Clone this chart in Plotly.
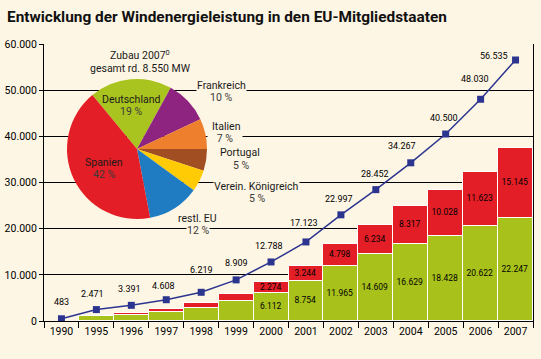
import plotly.graph_objects as go

# ---------------- data ----------------
years = ["1990", "1995", "1996", "1997", "1998", "1999", "2000", "2001",
         "2002", "2003", "2004", "2005", "2006", "2007"]
eu_total = [483, 2471, 3391, 4608, 6219, 8909, 12788, 17123,
            22997, 28452, 34267, 40500, 48030, 56535]
germany = [None, 1120, 1400, 2050, 2750, 4400, 6112, 8754,
           11965, 14609, 16629, 18428, 20622, 22247]
spain = [None, None, 380, 600, 1100, 1530, 2274, 3244,
         4798, 6234, 8317, 10028, 11623, 15145]
show_bar_labels = [False] * 6 + [True] * 8

pie_labels = ["Deutschland", "Frankreich", "Italien", "Portugal",
              "Verein. Königreich", "restl. EU", "Spanien"]
pie_values = [19, 10, 7, 5, 5, 12, 42]

y_tickvals = [0, 10000, 20000, 30000, 40000, 50000, 60000]
y_ticktext = ["0", "10.000", "20.000", "30.000", "40.000", "50.000", "60.000"]

title_text = "Entwicklung der Windenergieleistung in den EU-Mitgliedstaaten"
pie_title = ["Zubau 2007<sup>0</sup>", "gesamt rd. 8.550 MW"]

# ---------------- style ----------------
BG = "#FEF6E4"
GREEN = "#A8C21B"
RED = "#E31E26"
NAVY = "#2B3590"
FONT = "Roboto, Liberation Sans, sans-serif"
pie_colors = ["#AAC41F", "#8E2380", "#EE7F2D", "#A04E22", "#FFCB05", "#1F7CC3", "#E31E26"]

W, H = 541, 359
ML, MR, MT, MB = 44, 8, 44, 38
PW, PH = W - ML - MR, H - MT - MB


def px2paper(px, py):
    return (px - ML) / PW, (H - MB - py) / PH


def de(n):
    return f"{n:,}".replace(",", ".")


fig = go.Figure()

for vals, col in ((germany, GREEN), (spain, RED)):
    fig.add_trace(go.Bar(
        x=years, y=vals, marker=dict(color=col, line=dict(color="white", width=1.5)),
        text=[de(v) if (s and v) else None for v, s in zip(vals, show_bar_labels)],
        textposition="inside", insidetextanchor="middle", constraintext="none",
        textfont=dict(family=FONT, size=8.5, color="black"), textangle=0,
        hoverinfo="skip", showlegend=False))

fig.add_trace(go.Scatter(
    x=years, y=eu_total, mode="lines+markers",
    line=dict(color=NAVY, width=1.5),
    marker=dict(symbol="square", size=7, color=NAVY),
    hoverinfo="skip", showlegend=False))

# pie
cx, cy, r = 137, 149, 70
x0, y0 = px2paper(cx - r, cy + r)
x1, y1 = px2paper(cx + r, cy - r)
fig.add_trace(go.Pie(
    labels=pie_labels, values=pie_values, sort=False, direction="clockwise",
    rotation=-39.6, marker=dict(colors=pie_colors, line=dict(width=0)),
    textinfo="none", hoverinfo="skip", showlegend=False,
    domain=dict(x=[x0, x1], y=[y0, y1])))

# value labels on the line
label_dx = [0, -4, -2, -3, 0, 0, -2, -2, -2, -1, -9, -2, -6, -22]
label_dy = [17, 16, 16, 14, 22, 17, 16, 19, 16, 16, 17, 16, 20, 4]
for i, v in enumerate(eu_total):
    fig.add_annotation(x=i, y=v, xref="x", yref="y", text=de(v), showarrow=False,
                       xshift=label_dx[i], yshift=label_dy[i],
                       xanchor="center", yanchor="middle",
                       font=dict(family=FONT, size=9, color="black"))

# pie labels (name, pct) with pixel centres
name_pos = {"Deutschland": (131, 99), "Frankreich": (221, 85), "Italien": (226, 126),
            "Portugal": (240, 152), "Verein. Königreich": (256, 186),
            "restl. EU": (197, 218), "Spanien": (104, 162)}
pct_pos = {"Deutschland": (131, 111), "Frankreich": (221, 97), "Italien": (225, 138),
           "Portugal": (241, 165), "Verein. Königreich": (257, 198),
           "restl. EU": (198, 230), "Spanien": (104, 174)}
inside = {"Deutschland", "Spanien"}
pct_width = {"Italien": 34}
for lab, val in zip(pie_labels, pie_values):
    bg = None if lab in inside else BG
    px_, py_ = px2paper(*name_pos[lab])
    fig.add_annotation(x=px_, y=py_, xref="paper", yref="paper", text=lab, showarrow=False,
                       xanchor="center", yanchor="middle",
                       font=dict(family=FONT, size=10.5, color="#1a1a1a"),
                       bgcolor=bg, borderpad=0)
    px_, py_ = px2paper(*pct_pos[lab])
    kw = {"width": pct_width[lab]} if lab in pct_width else {}
    fig.add_annotation(x=px_, y=py_, xref="paper", yref="paper", text=f"{val} %", showarrow=False,
                       xanchor="center", yanchor="middle",
                       font=dict(family=FONT, size=10.5, color="#3a3a3a"),
                       bgcolor=bg, borderpad=0, **kw)

for t, (pxx, pyy) in zip(pie_title, [(140, 55), (140, 69)]):
    px_, py_ = px2paper(pxx, pyy)
    fig.add_annotation(x=px_, y=py_, xref="paper", yref="paper", text=t, showarrow=False,
                       xanchor="center", yanchor="middle",
                       font=dict(family=FONT, size=10.5, color="#1a1a1a"))

fig.update_layout(
    width=W, height=H, margin=dict(l=ML, r=MR, t=MT, b=MB, pad=0, autoexpand=False),
    paper_bgcolor=BG, plot_bgcolor=BG, barmode="stack", bargap=0,
    title=dict(text=f"<b>{title_text}</b>", x=7 / W, xanchor="left", xref="container",
               y=1 - 17 / H, yanchor="middle", automargin=False,
               font=dict(family=FONT, size=15.4, color="#111")),
    font=dict(family=FONT, size=11, color="black"),
)
fig.update_xaxes(type="category", range=[-0.5, 13.5], showline=True, linecolor="black", linewidth=1,
                 ticks="outside", tickson="boundaries", ticklen=6, tickcolor="black", tickangle=0,
                 showgrid=False, tickfont=dict(family=FONT, size=10.5, color="black"),
                 automargin=False, fixedrange=True)
fig.update_yaxes(range=[0, 60000], tickvals=y_tickvals, ticktext=y_ticktext, showgrid=True,
                 gridcolor="black", gridwidth=1, showline=True, linecolor="black", linewidth=1,
                 mirror=True, ticks="outside", ticklen=4, tickcolor="black", zeroline=False,
                 tickfont=dict(family=FONT, size=10.5, color="black"),
                 automargin=False, fixedrange=True)

fig.write_html("out.html", config={"displayModeBar": False},
               post_script="document.body.style.margin='0';document.body.style.background='" + BG + "';")
